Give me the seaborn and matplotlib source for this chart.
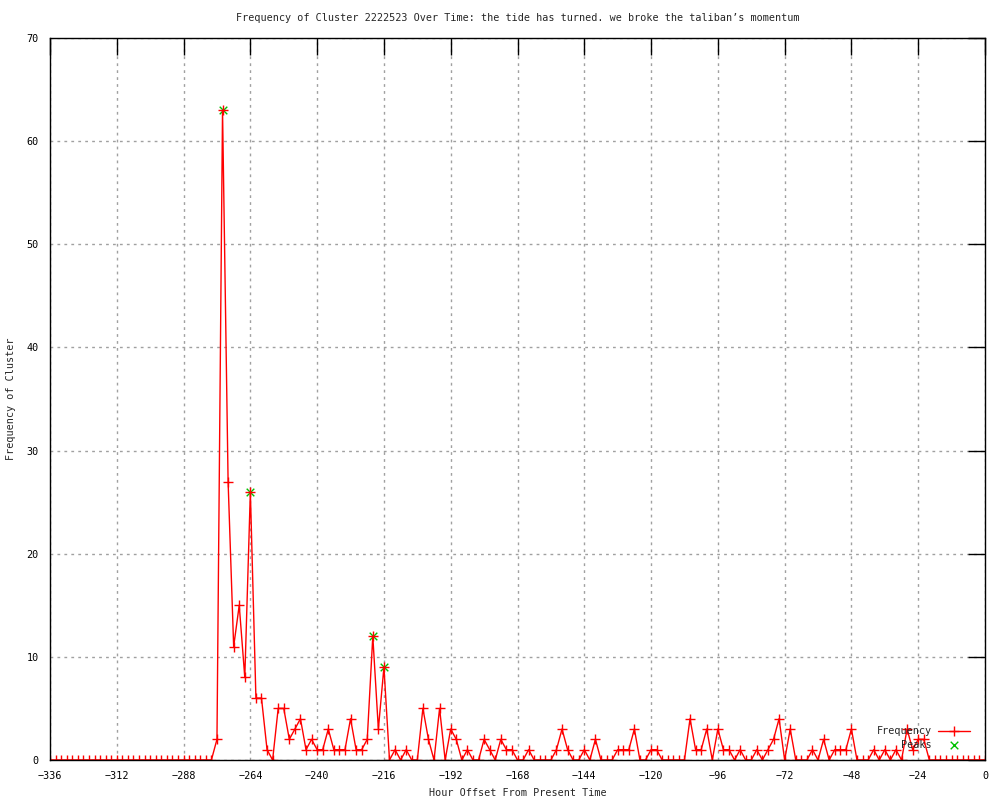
"""Frequency of Cluster 2222523 over time (gnuplot-style line chart)."""

import matplotlib
matplotlib.use("Agg")
import matplotlib.pyplot as plt
import pandas as pd
import seaborn as sns

# hours before present, every 2 hours
hours = list(range(-336, 1, 2))

freq = (
    [0] * 30  # -336 .. -278
    + [2, 63, 27, 11, 15, 8, 26, 6, 6, 1]   # -276 .. -258
    + [0, 5, 5, 2, 3, 4, 1, 2, 1, 1]        # -256 .. -238
    + [3, 1, 1, 1, 4, 1, 1, 2, 12, 3]       # -236 .. -218
    + [9, 0, 1, 0, 1, 0, 0, 5, 2, 0]        # -216 .. -198
    + [5, 0, 3, 2, 0, 1, 0, 0, 2, 1]        # -196 .. -178
    + [0, 2, 1, 1, 0, 0, 1, 0, 0, 0]        # -176 .. -158
    + [0, 1, 3, 1, 0, 0, 1, 0, 2, 0]        # -156 .. -138
    + [0, 0, 1, 1, 1, 3, 0, 0, 1, 1]        # -136 .. -118
    + [0, 0, 0, 0, 0, 4, 1, 1, 3, 0]        # -116 .. -98
    + [3, 1, 1, 0, 1, 0, 0, 1, 0, 1]        # -96 .. -78
    + [2, 4, 0, 3, 0, 0, 0, 1, 0, 2]        # -76 .. -58
    + [0, 1, 1, 1, 3, 0, 0, 0, 1, 0]        # -56 .. -38
    + [1, 0, 1, 0, 3, 1, 2, 2, 0]           # -36 .. -20
    + [0] * 10  # -18 .. 0
)

peak_hours = [-274, -264, -220, -216]
peak_vals = [63, 26, 12, 9]

x_ticks = list(range(-336, 1, 24))
y_ticks = list(range(0, 71, 10))

df = pd.DataFrame({"hour": hours, "freq": freq})
peaks = pd.DataFrame({"hour": peak_hours, "freq": peak_vals})

sns.set_theme(style="white")
plt.rcParams["font.family"] = ["DejaVu Sans Mono"]
fs = 7.3

fig = plt.figure(figsize=(10, 8), dpi=100)
ax = fig.add_axes([0.05, 0.05, 0.935, 0.9025])

sns.lineplot(
    data=df, x="hour", y="freq", ax=ax, color="red", linewidth=1,
    marker="+", markersize=7, markeredgewidth=1, markeredgecolor="red",
    label="Frequency",
)
sns.scatterplot(
    data=peaks, x="hour", y="freq", ax=ax, color="#00c000", marker="x",
    s=30, linewidth=1, label="Peaks", zorder=1,
)

ax.set_xlim(-336, 0)
ax.set_ylim(0, 70)
ax.set_xticks(x_ticks)
ax.set_yticks(y_ticks)
ax.tick_params(direction="in", length=12, width=1, top=True, right=True,
               labelsize=fs, colors="black", pad=8)
ax.grid(True, color="#a0a0a0", linestyle=(0, (2, 3)), linewidth=1)
ax.set_axisbelow(True)
for s in ax.spines.values():
    s.set_color("black")
    s.set_linewidth(1)

ax.set_xlabel("Hour Offset From Present Time", fontsize=fs, labelpad=5)
ax.set_ylabel("Frequency of Cluster", fontsize=fs, labelpad=8)
ax.set_title("Frequency of Cluster 2222523 Over Time: the tide has turned. "
             "we broke the taliban\u2019s momentum", fontsize=fs, pad=12)

leg = ax.legend(loc="lower right", bbox_to_anchor=(0.984, 0.014),
                markerfirst=False, frameon=False, borderaxespad=0,
                borderpad=0, handlelength=3.2, handletextpad=0.6,
                labelspacing=0.35, fontsize=fs)
leg.set_zorder(10)
for t in leg.get_texts():
    t.set_ha("right")

fig.savefig("out.png", dpi=100)
print("Saved out.png")
